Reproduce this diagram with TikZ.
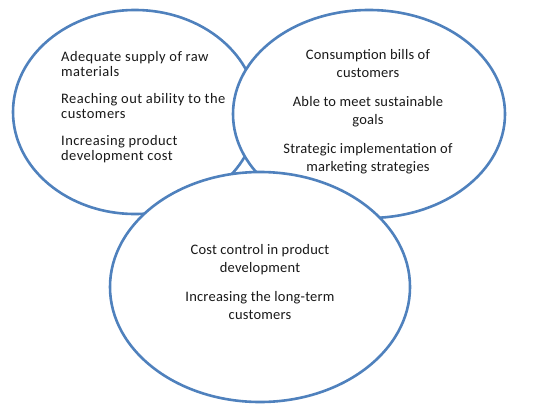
\documentclass[tikz,border=0pt]{standalone}
\usepackage{fontspec}
\setmainfont{Carlito}
\usepackage{tikz}
\usetikzlibrary{shapes.geometric,positioning}
\definecolor{vennblue}{HTML}{4F81BD}

\begin{document}
\begin{tikzpicture}[x=1pt,y=1pt,
  ring/.style={ellipse,draw=vennblue,line width=2.6pt,fill=white,
               inner sep=0pt,outer sep=0pt},
  txt/.style={font=\fontsize{14.5}{15}\selectfont\addfontfeatures{LetterSpace=3},
              text=black!90,inner sep=0pt},
  wide/.style={font=\fontsize{14.5}{18}\selectfont\addfontfeatures{LetterSpace=1.5},
               text=black!90,inner sep=0pt,align=center}]
\useasboundingbox (0,0) rectangle (548,416);
\node[ring,minimum width=244,minimum height=204] (left) at (135,304) {};
\node[ring,minimum width=272,minimum height=208] (right) at (369,302) {};
\node[ring,minimum width=300,minimum height=230] (bottom) at (260,129) {};
\node[txt,align=left,anchor=west] (ltext) at (61,309)
  {Adequate supply of raw\\materials\\[12pt]
   Reaching out ability to the\\customers\\[12pt]
   Increasing product\\development cost};
\node[wide] (rtext) at (368,304)
  {Consumption bills of\\customers\\[11pt]
   Able to meet sustainable\\goals\\[11pt]
   Strategic implementation of\\marketing strategies};
\node[wide] (btext) at (260,134)
  {Cost control in product\\development\\[11pt]
   Increasing the long-term\\customers};
\end{tikzpicture}
\end{document}
